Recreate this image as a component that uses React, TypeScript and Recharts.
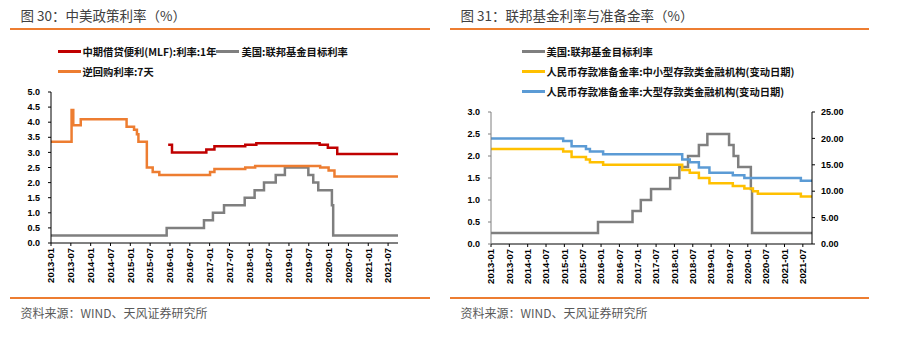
import { LineChart, Line, XAxis, YAxis, Legend } from 'recharts'

// x-axis tick labels (half-yearly)
const tickLabels = [
  '2013-01', '2013-07', '2014-01', '2014-07', '2015-01', '2015-07', '2016-01', '2016-07', '2017-01',
  '2017-07', '2018-01', '2018-07', '2019-01', '2019-07', '2020-01', '2020-07', '2021-01', '2021-07',
]

// 美国:联邦基金目标利率
const fedDates = [
  '2013-01-01', '2015-12-01', '2016-11-10', '2017-02-01', '2017-05-12', '2017-11-20', '2018-02-20',
  '2018-05-15', '2018-09-01', '2018-11-25', '2019-06-28', '2019-08-12', '2019-09-28', '2020-02-01',
  '2020-02-13', '2021-10-01',
]
const fedRate = [0.25, 0.5, 0.75, 1.0, 1.25, 1.5, 1.75, 2.0, 2.25, 2.5, 2.25, 2.0, 1.75, 1.25, 0.25, 0.25]

// 逆回购利率:7天
const repoDates = [
  '2013-01-01', '2013-07-08', '2013-07-24', '2013-10-01', '2014-11-28', '2015-02-05', '2015-03-01',
  '2015-03-15', '2015-06-01', '2015-07-25', '2015-09-25', '2017-01-05', '2017-02-15', '2017-11-25',
  '2018-02-25', '2019-10-15', '2020-01-01', '2020-02-25', '2021-10-01',
]
const repoRate = [3.35, 4.4, 3.9, 4.1, 3.85, 3.75, 3.6, 3.35, 2.5, 2.35, 2.25, 2.35, 2.45, 2.5, 2.55, 2.5, 2.4, 2.2, 2.2]

// 中期借贷便利(MLF):利率:1年
const mlfDates = [
  '2015-12-15', '2016-01-20', '2016-12-01', '2017-02-15', '2017-11-25', '2018-03-05', '2019-10-10',
  '2019-12-25', '2020-03-20', '2021-10-01',
]
const mlfRate = [3.25, 3.0, 3.1, 3.2, 3.25, 3.3, 3.25, 3.15, 2.95, 2.95]

// 准备金率 (变动日期)
const rrrDates = [
  '2013-01-01', '2014-12-20', '2015-03-12', '2015-08-03', '2015-09-12', '2016-01-22', '2018-03-18',
  '2018-06-01', '2018-09-01', '2018-12-15', '2019-08-04', '2019-11-28', '2020-02-22', '2020-04-10',
  '2021-06-12', '2021-10-01',
]
const rrrLarge = [20, 19.5, 18.5, 18, 17.5, 17, 16, 15.5, 14.5, 13.5, 13, 12.5, 12.5, 12.5, 12, 12]
const rrrSmall = [18, 17.5, 16.5, 16, 15.5, 15, 14, 13.5, 12.5, 11.5, 11, 10.5, 10, 9.5, 9, 9]

const leftTicks = [0, 0.5, 1, 1.5, 2, 2.5, 3, 3.5, 4, 4.5, 5]
const fedTicks = [0, 0.5, 1, 1.5, 2, 2.5, 3]
const rrrTicks = [0, 5, 10, 15, 20, 25]

const toMonth = (s: string) => {
  const [y, m, d] = s.split('-').map(Number)
  return (y - 2013) * 12 + (m - 1) + ((d || 1) - 1) / 31
}
const toSeries = (dates: string[], vals: number[]) => dates.map((d, i) => ({ t: toMonth(d), v: vals[i] }))

const fedSeries = toSeries(fedDates, fedRate)
const repoSeries = toSeries(repoDates, repoRate)
const mlfSeries = toSeries(mlfDates, mlfRate)
const largeSeries = toSeries(rrrDates, rrrLarge)
const smallSeries = toSeries(rrrDates, rrrSmall)
const xTicks = tickLabels.map((l) => toMonth(l))

const CJK = '"Noto Sans CJK SC", "Noto Sans", sans-serif'
const LATIN = '"Liberation Sans", Arial, sans-serif'
const ORANGE_RULE = '#ED7D31'

const axisTick = { fontSize: 9, fontWeight: 700, fill: '#000', fontFamily: LATIN }

function DateTick(props: any) {
  const { x, y, payload } = props
  const label = tickLabels[xTicks.indexOf(payload.value)] ?? ''
  return (
    <g transform={`translate(${x},${y})`}>
      <text transform="rotate(-90)" textAnchor="end" dy="0.35em" fontSize={9.5} fontWeight={700} fill="#000" fontFamily={LATIN}>
        {label}
      </text>
    </g>
  )
}

function LegendBox({ payload, order, column }: any) {
  const items = [...(payload || [])].sort((a: any, b: any) => order.indexOf(a.value) - order.indexOf(b.value))
  return (
    <div style={{ display: 'flex', flexWrap: 'wrap', flexDirection: column ? 'column' : 'row' }}>
      {items.map((p: any) => (
        <div key={p.value} style={{ display: 'flex', alignItems: 'center', height: 20 }}>
          <span style={{ display: 'inline-block', width: 23, height: 3, background: p.color, marginRight: 2 }} />
          <span style={{ fontSize: 10.3, fontWeight: 700, color: '#111', fontFamily: CJK, whiteSpace: 'nowrap' }}>{p.value}</span>
        </div>
      ))}
    </div>
  )
}

function Panel({ left, title, width, rule }: { left: number; title: string; width: number; rule: number }) {
  return (
    <>
      <div style={{ position: 'absolute', left: left + 10.5, top: 5, fontSize: 13.5, color: '#404040', fontFamily: CJK, lineHeight: '20px', whiteSpace: 'nowrap' }}>
        {title}
      </div>
      <div style={{ position: 'absolute', left: rule, top: 28, width, height: 2, background: ORANGE_RULE }} />
      <div style={{ position: 'absolute', left: rule, top: 296.5, width, height: 2, background: ORANGE_RULE }} />
      <div style={{ position: 'absolute', left: left + 10.5, top: 303, fontSize: 12, color: '#595959', fontFamily: CJK, lineHeight: '20px', whiteSpace: 'nowrap' }}>
        资料来源：WIND、天风证券研究所
      </div>
    </>
  )
}

const leftOrder = ['中期借贷便利(MLF):利率:1年', '美国:联邦基金目标利率', '逆回购利率:7天']
const rightOrder = ['美国:联邦基金目标利率', '人民币存款准备金率:中小型存款类金融机构(变动日期)', '人民币存款准备金率:大型存款类金融机构(变动日期)']

export default function App() {
  return (
    <div style={{ position: 'absolute', left: 0, top: 0, width: 902, height: 340, background: '#fff', overflow: 'hidden' }}>
      <Panel left={10} title="图 30：中美政策利率（%）" width={420} rule={10} />
      <Panel left={450} title="图 31：联邦基金利率与准备金率（%）" width={419} rule={450} />

      <div style={{ position: 'absolute', left: 0, top: 0 }}>
        <LineChart width={430} height={300} margin={{ top: 92, right: 32, left: 0, bottom: 0 }}>
          <XAxis
            dataKey="t"
            type="number"
            domain={[0, 105]}
            ticks={xTicks}
            interval={0}
            allowDataOverflow
            height={57}
            tick={<DateTick />}
            tickSize={3}
            tickMargin={2}
            stroke="#000"
          />
          <YAxis
            type="number"
            domain={[0, 5]}
            ticks={leftTicks}
            interval={0}
            width={51}
            tick={axisTick}
            tickFormatter={(v: number) => v.toFixed(1)}
            tickSize={3}
            tickMargin={8}
            stroke="#000"
          />
          <Legend
            layout="horizontal"
            verticalAlign="middle"
            align="center"
            wrapperStyle={{ left: 57.5, top: 41.5, width: 300, height: 40 }}
            content={(p: any) => <LegendBox payload={p.payload} order={leftOrder} />}
          />
          <Line data={fedSeries} dataKey="v" name="美国:联邦基金目标利率" type="stepAfter" stroke="#7F7F7F" strokeWidth={2.5} dot={false} isAnimationActive={false} />
          <Line data={repoSeries} dataKey="v" name="逆回购利率:7天" type="stepAfter" stroke="#ED7D31" strokeWidth={2.5} dot={false} isAnimationActive={false} />
          <Line data={mlfSeries} dataKey="v" name="中期借贷便利(MLF):利率:1年" type="stepAfter" stroke="#C00000" strokeWidth={2.5} dot={false} isAnimationActive={false} />
        </LineChart>
      </div>

      <div style={{ position: 'absolute', left: 450, top: 0 }}>
        <LineChart width={452} height={300} margin={{ top: 112, right: 40, left: 0, bottom: 0 }}>
          <XAxis
            dataKey="t"
            type="number"
            domain={[0, 105]}
            ticks={xTicks}
            interval={0}
            allowDataOverflow
            height={56}
            tick={<DateTick />}
            tickSize={3}
            tickMargin={2}
            stroke="#000"
          />
          <YAxis
            yAxisId="fed"
            type="number"
            domain={[0, 3]}
            ticks={fedTicks}
            interval={0}
            width={41}
            tick={axisTick}
            tickFormatter={(v: number) => v.toFixed(1)}
            tickSize={3}
            tickMargin={8}
            stroke="#7F7F7F"
          />
          <YAxis
            yAxisId="rrr"
            orientation="right"
            type="number"
            domain={[0, 25]}
            ticks={rrrTicks}
            interval={0}
            width={50}
            tick={axisTick}
            tickFormatter={(v: number) => v.toFixed(2)}
            tickSize={3}
            tickMargin={6}
            stroke="#000"
          />
          <Legend
            layout="horizontal"
            verticalAlign="middle"
            align="center"
            wrapperStyle={{ left: 71.5, top: 41, width: 340, height: 60 }}
            content={(p: any) => <LegendBox payload={p.payload} order={rightOrder} column />}
          />
          <Line yAxisId="fed" data={fedSeries} dataKey="v" name="美国:联邦基金目标利率" type="stepAfter" stroke="#7F7F7F" strokeWidth={2.5} dot={false} isAnimationActive={false} />
          <Line yAxisId="rrr" data={smallSeries} dataKey="v" name="人民币存款准备金率:中小型存款类金融机构(变动日期)" type="stepAfter" stroke="#FFC000" strokeWidth={2.5} dot={false} isAnimationActive={false} />
          <Line yAxisId="rrr" data={largeSeries} dataKey="v" name="人民币存款准备金率:大型存款类金融机构(变动日期)" type="stepAfter" stroke="#5B9BD5" strokeWidth={2.5} dot={false} isAnimationActive={false} />
        </LineChart>
      </div>
    </div>
  )
}
